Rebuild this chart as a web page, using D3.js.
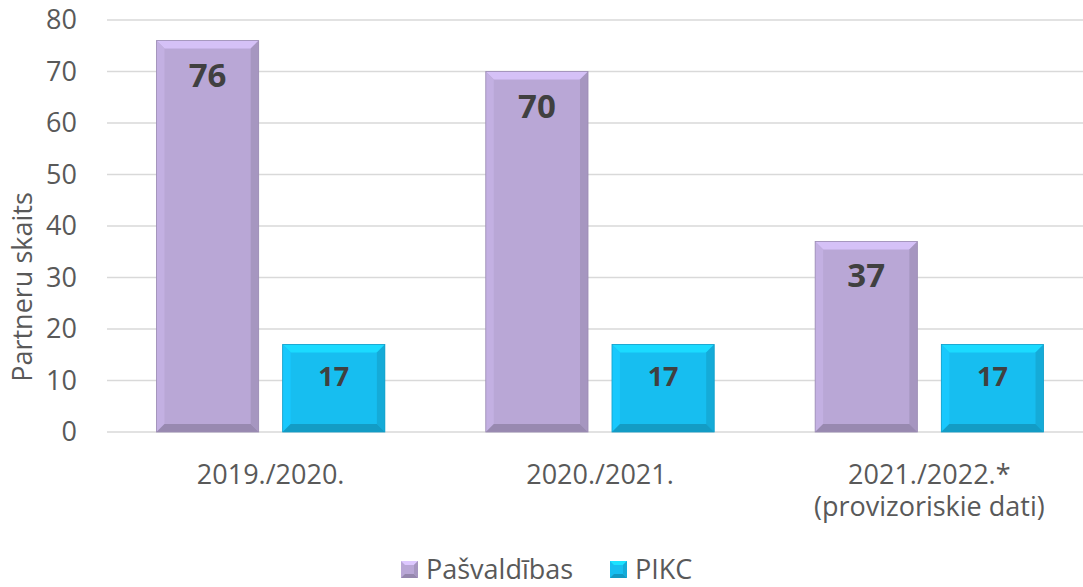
<!DOCTYPE html>
<html>
<head>
<meta charset="utf-8">
<script src="https://cdn.jsdelivr.net/npm/d3@7"></script>
<style>
  body { margin: 0; background: #fff; }
  text { font-family: "Open Sans", "Lato", sans-serif; }
</style>
</head>
<body>
<div id="chart"></div>
<script>
const years = ["2019./2020.", "2020./2021.", "2021./2022.*"];
const yearNotes = ["", "", "(provizoriskie dati)"];
const series = ["Pašvaldības", "PIKC"];
const pasvaldibas = [76, 70, 37];
const pikc = [17, 17, 17];
const yTicks = [0, 10, 20, 30, 40, 50, 60, 70, 80];

const colors = { "Pašvaldības": "#b9a7d6", "PIKC": "#17bef0" };
const labelSize = { "Pašvaldības": 33, "PIKC": 27 };
const labelOffset = { "Pašvaldības": 46, "PIKC": 42 };

const width = 1083, height = 587;
const bevel = 8;
const fontSize = 27;

const svg = d3.select('#chart').append('svg')
    .attr('width', width)
    .attr('height', height);

const x0 = d3.scaleBand()
    .domain(years)
    .range([106, 1094]);

const x1 = d3.scaleBand()
    .domain(series)
    .range([0, x0.bandwidth()])
    .paddingInner(0.19)
    .paddingOuter(0.4);

const y = d3.scaleLinear()
    .domain([0, 80])
    .range([432, 20]);

// Gridlines
svg.append('g')
    .selectAll('line')
    .data(yTicks)
    .join('line')
    .attr('x1', 107)
    .attr('x2', width)
    .attr('y1', d => y(d))
    .attr('y2', d => y(d))
    .attr('stroke', '#d9d9d9')
    .attr('stroke-width', 1.5);

// Y axis labels
svg.append('g')
    .selectAll('text')
    .data(yTicks)
    .join('text')
    .attr('x', 77)
    .attr('y', d => y(d))
    .attr('dy', '0.35em')
    .attr('text-anchor', 'end')
    .attr('fill', '#595959')
    .attr('font-size', fontSize)
    .text(d => d);

svg.append('text')
    .attr('transform', 'translate(32,287) rotate(-90)')
    .attr('text-anchor', 'middle')
    .attr('fill', '#595959')
    .attr('font-size', fontSize)
    .text('Partneru skaits');

// Bars
const rows = years.map((yr, i) => ({
    year: yr,
    values: [
        { key: "Pašvaldības", value: pasvaldibas[i] },
        { key: "PIKC", value: pikc[i] }
    ]
}));

function drawBevelBar(g, d) {
    const x = x1(d.key), w = x1.bandwidth();
    const top = y(d.value), bot = y(0), h = bot - top;
    const c = d3.color(colors[d.key]);
    const b = Math.min(bevel, h / 2);

    g.append('rect')
        .attr('x', x).attr('y', top)
        .attr('width', w).attr('height', h)
        .attr('fill', c);

    // top facet
    g.append('polygon')
        .attr('points', [[x, top], [x + w, top], [x + w - b, top + b], [x + b, top + b]].join(' '))
        .attr('fill', c.brighter(0.4));
    // left facet
    g.append('polygon')
        .attr('points', [[x, top], [x + b, top + b], [x + b, bot - b], [x, bot]].join(' '))
        .attr('fill', c.brighter(0.15));
    // right facet
    g.append('polygon')
        .attr('points', [[x + w, top], [x + w, bot], [x + w - b, bot - b], [x + w - b, top + b]].join(' '))
        .attr('fill', c.darker(0.3));
    // bottom facet
    g.append('polygon')
        .attr('points', [[x, bot], [x + w, bot], [x + w - b, bot - b], [x + b, bot - b]].join(' '))
        .attr('fill', c.darker(0.55));

    g.append('rect')
        .attr('x', x).attr('y', top)
        .attr('width', w).attr('height', h)
        .attr('fill', 'none')
        .attr('stroke', c.darker(0.5))
        .attr('stroke-width', 0.8);

    g.append('text')
        .attr('x', x + w / 2)
        .attr('y', top + labelOffset[d.key])
        .attr('text-anchor', 'middle')
        .attr('font-weight', 'bold')
        .attr('font-size', labelSize[d.key])
        .attr('fill', '#404040')
        .text(d.value);
}

const groups = svg.append('g')
    .selectAll('g')
    .data(rows)
    .join('g')
    .attr('transform', d => 'translate(' + x0(d.year) + ',0)');

groups.each(function(row) {
    const g = d3.select(this);
    row.values.forEach(v => drawBevelBar(g.append('g'), v));
});

// Category labels
const cat = svg.append('g')
    .selectAll('text')
    .data(years)
    .join('text')
    .attr('x', d => x0(d) + x0.bandwidth() / 2)
    .attr('y', 484)
    .attr('text-anchor', 'middle')
    .attr('fill', '#595959')
    .attr('font-size', fontSize);
cat.append('tspan').text(d => d);
cat.append('tspan')
    .attr('x', d => x0(d) + x0.bandwidth() / 2)
    .attr('dy', 32)
    .text((d, i) => yearNotes[i]);

// Legend
const legend = svg.append('g')
    .selectAll('g')
    .data(series)
    .join('g')
    .attr('transform', (d, i) => 'translate(' + (i === 0 ? 401 : 610) + ',561)');

legend.each(function(s) {
    drawSwatch(d3.select(this), s);
});

function drawSwatch(g, s) {
    const c = d3.color(colors[s]);
    const sz = 17, b = 4;
    g.append('rect').attr('width', sz).attr('height', sz).attr('fill', c);
    g.append('polygon').attr('points', [[0, 0], [sz, 0], [sz - b, b], [b, b]].join(' ')).attr('fill', c.brighter(0.5));
    g.append('polygon').attr('points', [[0, sz], [sz, sz], [sz - b, sz - b], [b, sz - b]].join(' ')).attr('fill', c.darker(0.6));
    g.append('polygon').attr('points', [[sz, 0], [sz, sz], [sz - b, sz - b], [sz - b, b]].join(' ')).attr('fill', c.darker(0.3));
    g.append('text')
        .attr('x', sz + 8)
        .attr('y', sz / 2)
        .attr('dy', '0.35em')
        .attr('fill', '#595959')
        .attr('font-size', fontSize)
        .text(s);
}
</script>
</body>
</html>
